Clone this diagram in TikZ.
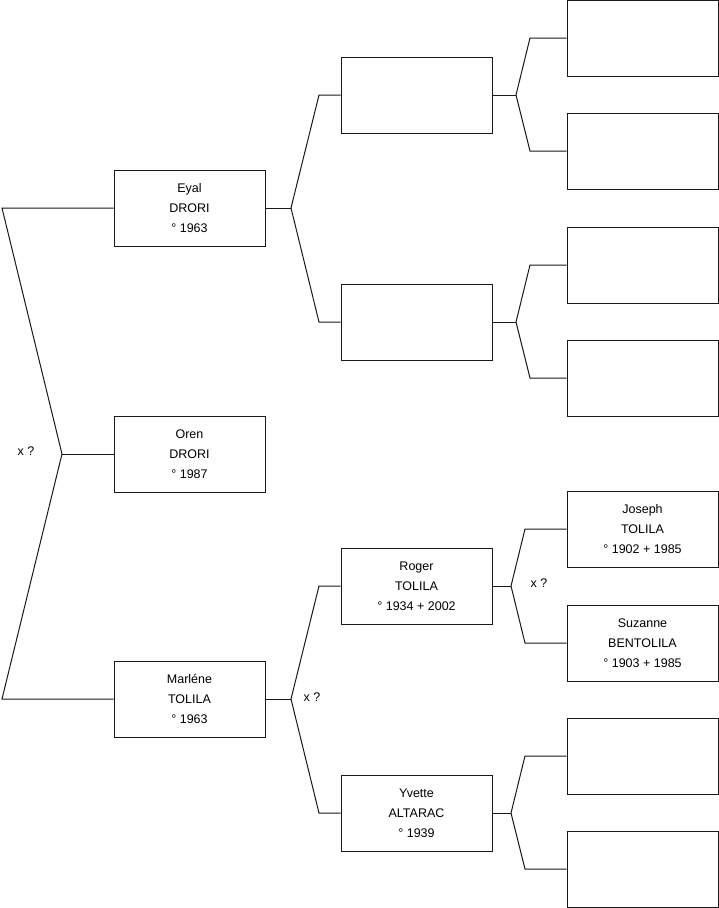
\documentclass[tikz,border=0pt]{standalone}
\usepackage{fontspec}
\setmainfont{Liberation Sans}
\usetikzlibrary{positioning, calc}
\definecolor{mydark}{RGB}{25,25,25}
\tikzset{
  person/.style={rectangle, draw=mydark, fill=white,
    minimum width=151pt, minimum height=76pt, inner sep=0pt,
    align=center, font=\fontsize{12.5}{20}\selectfont, line width=1pt},
  link/.style={color=mydark, line width=1pt},
  union/.style={font=\fontsize{12.5}{14}\selectfont, inner sep=0pt}
}

\begin{document}
\begin{tikzpicture}[x=1pt, y=-1pt]
  \useasboundingbox (0,0) rectangle (719,908);
  % first generation
  \node[person] (eyal)    at (189.5,208) {Eyal\\DRORI\\° 1963};
  \node[person] (oren)    at (189.5,454) {Oren\\DRORI\\° 1987};
  \node[person] (marlene) at (189.5,699) {Marléne\\TOLILA\\° 1963};
  % second generation
  \node[person] (eyalf)  at (416.5,95)  {};
  \node[person] (eyalm)  at (416.5,322) {};
  \node[person] (roger)  at (416.5,586) {Roger\\TOLILA\\° 1934 + 2002};
  \node[person] (yvette) at (416.5,813) {Yvette\\ALTARAC\\° 1939};
  % third generation
  \node[person] (ffa) at (642.5,38)  {};
  \node[person] (ffb) at (642.5,151) {};
  \node[person] (fma) at (642.5,265) {};
  \node[person] (fmb) at (642.5,378) {};
  \node[person] (joseph)  at (642.5,529) {Joseph\\TOLILA\\° 1902 + 1985};
  \node[person] (suzanne) at (642.5,643) {Suzanne\\BENTOLILA\\° 1903 + 1985};
  \node[person] (yva) at (642.5,756) {};
  \node[person] (yvb) at (642.5,869) {};
  % forks
  \coordinate (top)  at (2,208);
  \coordinate (bot)  at (2,699);
  \coordinate (kid)  at (62,454);
  \draw[link] (eyal.west) -- (top) -- (kid) -- (bot) -- (marlene.west);
  \draw[link] (kid) -- (oren.west);
  \node[union] (u1) at (26,451) {x ?};

  \coordinate (je) at (291,208);
  \draw[link] (eyal.east) -- (je);
  \draw[link] (je) -- (319,95) -- (eyalf.west);
  \draw[link] (je) -- (319,322) -- (eyalm.west);

  \coordinate (jm) at (291,699);
  \draw[link] (marlene.east) -- (jm);
  \draw[link] (jm) -- (319,586) -- (roger.west);
  \draw[link] (jm) -- (319,813) -- (yvette.west);
  \node[union] (u2) at (312,697) {x ?};

  \coordinate (jf) at (516,95);
  \draw[link] (eyalf.east) -- (jf);
  \draw[link] (jf) -- (530,38) -- (ffa.west);
  \draw[link] (jf) -- (530,151) -- (ffb.west);

  \coordinate (jg) at (516,322);
  \draw[link] (eyalm.east) -- (jg);
  \draw[link] (jg) -- (530,265) -- (fma.west);
  \draw[link] (jg) -- (530,378) -- (fmb.west);

  \coordinate (jr) at (511,586);
  \draw[link] (roger.east) -- (jr);
  \draw[link] (jr) -- (525,529) -- (joseph.west);
  \draw[link] (jr) -- (525,643) -- (suzanne.west);
  \node[union] (u3) at (539,583) {x ?};

  \coordinate (jy) at (511,813);
  \draw[link] (yvette.east) -- (jy);
  \draw[link] (jy) -- (525,756) -- (yva.west);
  \draw[link] (jy) -- (525,869) -- (yvb.west);
\end{tikzpicture}
\end{document}
